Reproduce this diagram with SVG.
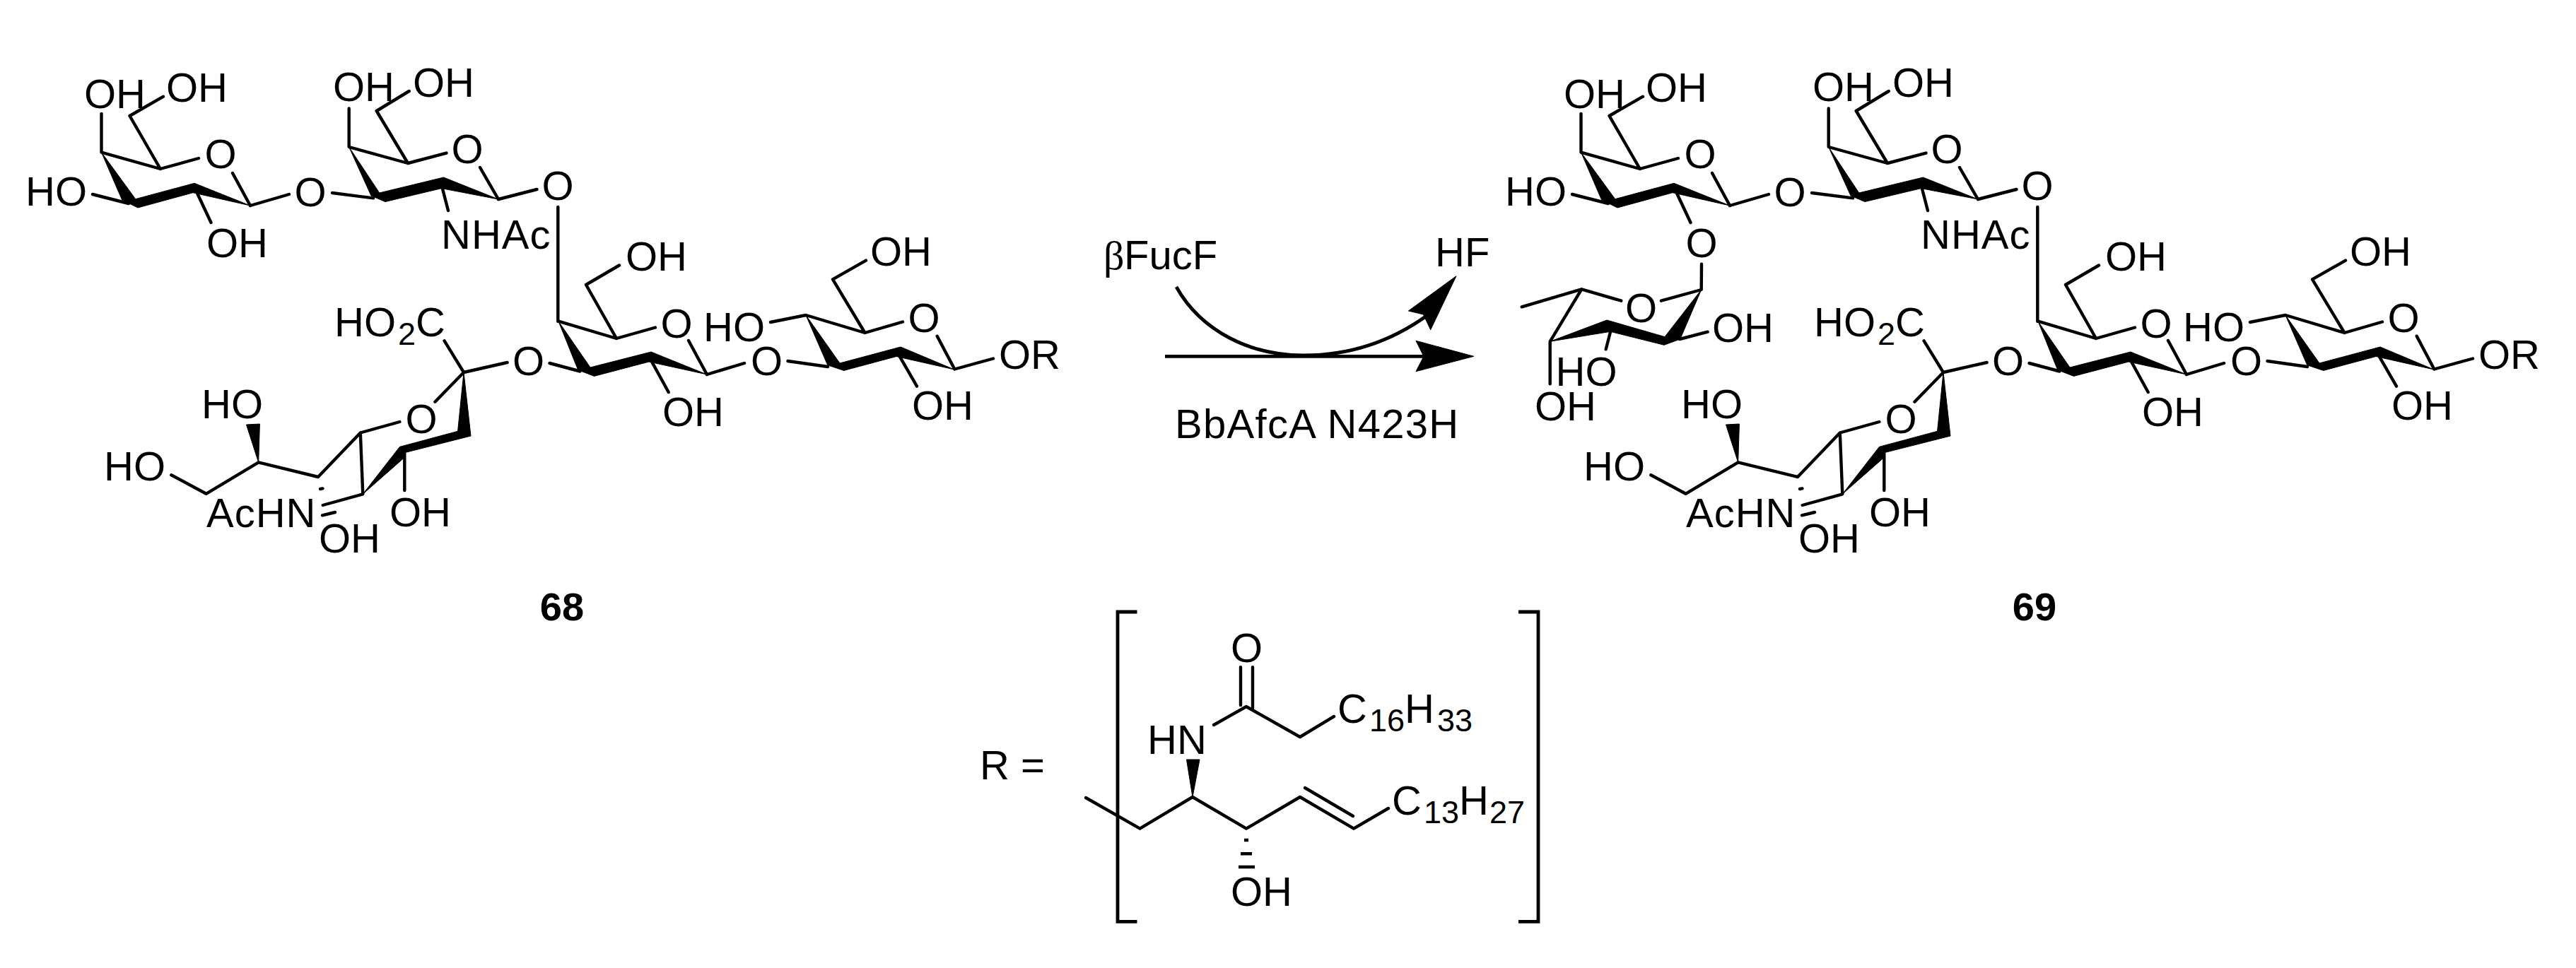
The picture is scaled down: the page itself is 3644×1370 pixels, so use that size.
<svg xmlns="http://www.w3.org/2000/svg" width="3644" height="1370" viewBox="0 0 3644 1370">
<style>
.b{stroke:#000;stroke-width:4.4;fill:none;stroke-linecap:round;stroke-linejoin:round}
.w{fill:#000;stroke:#000;stroke-width:1;stroke-linejoin:round}
.h{stroke:#000;stroke-width:4.4;fill:none}
.a{stroke:#000;stroke-width:4.8;fill:none}
text{font-family:"Liberation Sans",Arial,sans-serif;font-size:58px;fill:#000}
.m{text-anchor:middle}
.n{font-weight:bold;font-size:56px}
.s{letter-spacing:1px}
.sub{font-size:45px}
.sym{font-family:"Liberation Serif","Times New Roman",serif}
</style>
<rect width="3644" height="1370" fill="#fff"/>

<g id="compound-68">
<g id="gal-68">
<path class="b" d="M143.5 161V215.6L226.8 239L281 224M226.8 239L183.5 164L231 136.7M354 291L329 245M131 275L182 288M275.5 266L298.5 315"/>
<path class="w" d="M143.5 215.6L172.7 283L195 294L273 272.7L354 291L275 259.3L191.7 281.7Z"/>
<text x="119" y="152.5">OH</text><text x="235" y="144">OH</text><text class="m" x="312" y="238">O</text><text x="36" y="290.6">HO</text><text x="292" y="363.6">OH</text>
</g>
<g id="galnac-68">
<path class="b" d="M493.7 153.4V208L577 231L631.5 216.6M577 231L532.7 157L578.7 129M705 282L679 237M625.7 266L634 298"/>
<path class="w" d="M493.7 208L525 277L545 285.5L624.6 266.6L705 282L627.5 251L536.7 273Z"/>
<text x="471" y="143">OH</text><text x="584" y="136.5">OH</text><text class="m" x="661" y="231">O</text><text class="s" x="624" y="352">NHAc</text>
</g>
<g id="gal-core-68">
<path class="b" d="M790 454.7L872 479L927 463.5M872 479L829 403L876 375.5M1000 530L974 482M921 510L945.7 555"/>
<path class="w" d="M790 454.7L817.7 523.6L840.6 532.4L918 512L1000 530L921 498L835 520Z"/>
<text x="885" y="383">OH</text><text class="m" x="957" y="478">O</text><text x="937" y="603">OH</text>
</g>
<g id="glc-68">
<path class="b" d="M1090 456L1140 446L1223.5 471L1277 455.5M1223.5 471L1178 395.4L1225 368.6M1350.4 522.5L1325.7 475.8M1273 505L1297 546.6M1350.4 522.5L1405 507.5"/>
<path class="w" d="M1140 446L1170.7 516.7L1193.7 524.4L1268 504.5L1350 523L1274 491L1188 514Z"/>
<text x="995" y="482.7">HO</text><text x="1231" y="376">OH</text><text class="m" x="1307" y="470">O</text><text x="1290" y="594.4">OH</text><text x="1413" y="521.7">OR</text>
</g>
<g id="neu5ac-68">
<path class="b" d="M628.6 482.4L656 527L615.4 568.7M565.4 597L509.8 612.5L513.3 699.3L456.7 715M509.8 612.5L450 675L365.7 654.4L291.6 698.8L242.3 672.2M572.3 641.6V694M456 729.3L474 725M453 692L456.5 691.4"/>
<path class="w" d="M656 527L647.5 611L648.7 610L565.4 632.4L513.3 699.3L573 646.7L572.9 640.6L666 617Z"/>
<path class="w" d="M365.7 654.4L348.5 601L367.4 600Z"/>
<text x="473" y="476">HO<tspan class="sub" x="563" dy="12">2</tspan><tspan x="588" dy="-12">C</tspan></text>
<text class="m" x="596" y="612.5">O</text><text x="285" y="592">HO</text><text x="147" y="680">HO</text><text x="551" y="745">OH</text><text class="s" x="292" y="746">AcHN</text><text x="451" y="782">OH</text>
</g>
<g id="linkages-68">
<path class="b" d="M354 291L409 275M470 273L528 280.4M705 282L759.5 268M789.3 293V454.7M656 527L717.6 513M777.5 514L820.5 525.5M1000 530L1053 514M1114.5 511L1171 519"/>
<text class="m" x="439" y="292">O</text><text class="m" x="789" y="283">O</text><text class="m" x="747.5" y="530.5">O</text><text class="m" x="1084.6" y="530.5">O</text>
</g>
<text id="label-68" class="n m" x="795" y="878">68</text>
</g>

<g id="compound-69" transform="translate(2093,0)">
<g id="gal-69">
<path class="b" d="M143.5 161V215.6L226.8 239L281 224M226.8 239L183.5 164L231 136.7M354 291L329 245M131 275L182 288M275.5 266L298.5 315"/>
<path class="w" d="M143.5 215.6L172.7 283L195 294L273 272.7L354 291L275 259.3L191.7 281.7Z"/>
<text x="119" y="152.5">OH</text><text x="235" y="144">OH</text><text class="m" x="312" y="238">O</text><text x="36" y="290.6">HO</text><text class="m" x="314" y="363.6">O</text>
</g>
<g id="galnac-69">
<path class="b" d="M493.7 153.4V208L577 231L631.5 216.6M577 231L532.7 157L578.7 129M705 282L679 237M625.7 266L634 298"/>
<path class="w" d="M493.7 208L525 277L545 285.5L624.6 266.6L705 282L627.5 251L536.7 273Z"/>
<text x="471" y="143">OH</text><text x="584" y="136.5">OH</text><text class="m" x="661" y="231">O</text><text class="s" x="624" y="352">NHAc</text>
</g>
<g id="gal-core-69">
<path class="b" d="M790 454.7L872 479L927 463.5M872 479L829 403L876 375.5M1000 530L974 482M921 510L945.7 555"/>
<path class="w" d="M790 454.7L817.7 523.6L840.6 532.4L918 512L1000 530L921 498L835 520Z"/>
<text x="885" y="383">OH</text><text class="m" x="957" y="478">O</text><text x="937" y="603">OH</text>
</g>
<g id="glc-69">
<path class="b" d="M1090 456L1140 446L1223.5 471L1277 455.5M1223.5 471L1178 395.4L1225 368.6M1350.4 522.5L1325.7 475.8M1273 505L1297 546.6M1350.4 522.5L1405 507.5"/>
<path class="w" d="M1140 446L1170.7 516.7L1193.7 524.4L1268 504.5L1350 523L1274 491L1188 514Z"/>
<text x="995" y="482.7">HO</text><text x="1231" y="376">OH</text><text class="m" x="1307" y="470">O</text><text x="1290" y="594.4">OH</text><text x="1413" y="521.7">OR</text>
</g>
<g id="neu5ac-69">
<path class="b" d="M628.6 482.4L656 527L615.4 568.7M565.4 597L509.8 612.5L513.3 699.3L456.7 715M509.8 612.5L450 675L365.7 654.4L291.6 698.8L242.3 672.2M572.3 641.6V694M456 729.3L474 725M453 692L456.5 691.4"/>
<path class="w" d="M656 527L647.5 611L648.7 610L565.4 632.4L513.3 699.3L573 646.7L572.9 640.6L666 617Z"/>
<path class="w" d="M365.7 654.4L348.5 601L367.4 600Z"/>
<text x="473" y="476">HO<tspan class="sub" x="563" dy="12">2</tspan><tspan x="588" dy="-12">C</tspan></text>
<text class="m" x="596" y="612.5">O</text><text x="285" y="592">HO</text><text x="147" y="680">HO</text><text x="551" y="745">OH</text><text class="s" x="292" y="746">AcHN</text><text x="451" y="782">OH</text>
</g>
<g id="linkages-69">
<path class="b" d="M354 291L409 275M470 273L528 280.4M705 282L759.5 268M789.3 293V454.7M656 527L717.6 513M777.5 514L820.5 525.5M1000 530L1053 514M1114.5 511L1171 519"/>
<text class="m" x="439" y="292">O</text><text class="m" x="789" y="283">O</text><text class="m" x="747.5" y="530.5">O</text><text class="m" x="1084.6" y="530.5">O</text>
</g>
<text id="label-69" class="n m" x="785" y="878">69</text>
</g>

<g id="fucose-69">
<path class="b" d="M2407 373.8L2406.7 410L2350 425.7M2293.3 425.7L2237.3 409.3L2152.7 434.3M2237.3 409.3L2192.7 483.3V543.3M2278 470L2271.7 494.3M2376 480L2415.7 469.7"/>
<path class="w" d="M2192.7 483.3L2273 453L2355 476.7L2406.7 410L2376.7 480L2354 488.3L2278 469.3Z"/>
<text class="m" x="2321.5" y="456.4">O</text><text x="2422" y="483.5">OH</text><text x="2200.5" y="546">HO</text><text x="2171" y="594.7">OH</text>
</g>

<g id="reaction">
<path class="a" d="M1648 504.3H2014"/>
<path class="w" d="M2084.8 504.3L2003 482.3L2014 504.3L2003 525.7Z"/>
<path class="a" d="M1664 406C1700 470 1770 503 1844 503C1905 503 1965 485 2018 447"/>
<path class="w" d="M2060 390.7L1992.4 440L2013.4 445L2023.7 466.7Z"/>
<text x="1561" y="381"><tspan class="sym">β</tspan><tspan x="1590">FucF</tspan></text>
<text x="2030" y="377">HF</text>
<text x="1662" y="620" style="letter-spacing:1.3px">BbAfcA N423H</text>
</g>

<g id="r-group">
<text x="1386" y="1103">R =</text>
<path class="a" d="M1608.5 866H1581V1304.3H1608.5M2148 866H2176V1304.3H2148"/>
<path class="b" d="M1536 1129L1612.5 1172.7L1687 1128L1763 1172.7L1839 1128L1915 1172.7L1964 1144M1846 1115L1914 1155M1717 1026L1763 1000L1839 1043L1887 1014M1755 944.3V998M1772 944.3V1003"/>
<path class="w" d="M1687 1128L1678.5 1075H1697Z"/>
<path class="h" d="M1760 1189H1766M1755 1208.3H1771M1752 1227H1775"/>
<text class="m" x="1763.5" y="936.7">O</text>
<text x="1623" y="1066.7">HN</text>
<text x="1741" y="1281.7">OH</text>
<text x="1892" y="1022.7">C<tspan class="sub" x="1937" dy="12">16</tspan><tspan x="1987" dy="-12">H</tspan><tspan class="sub" x="2033" dy="12">33</tspan></text>
<text x="1969" y="1152.7">C<tspan class="sub" x="2014" dy="12">13</tspan><tspan x="2064" dy="-12">H</tspan><tspan class="sub" x="2107" dy="12">27</tspan></text>
</g>
</svg>
